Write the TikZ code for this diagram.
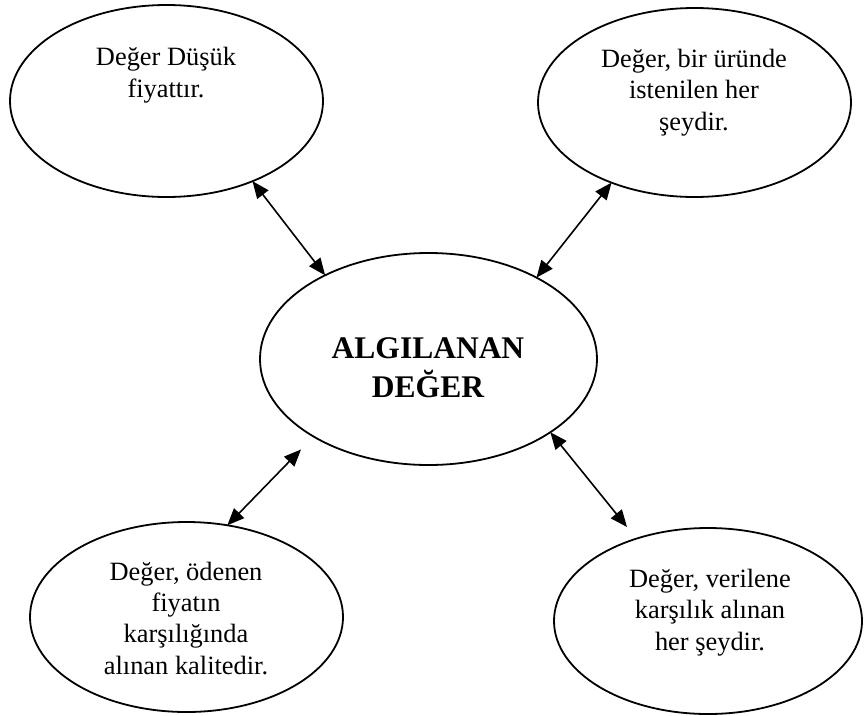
\documentclass[tikz,border=0pt]{standalone}
\usepackage{fontspec}
\setmainfont{Liberation Serif}
\usetikzlibrary{shapes.geometric,arrows.meta}
\begin{document}
\begin{tikzpicture}[x=1pt,y=-1pt,
  oval/.style={draw=black,line width=1.8pt,ellipse,inner sep=0pt,outer sep=0pt},
  txt/.style={align=center,inner sep=0pt,anchor=base,font=\fontsize{26.4pt}{31.3pt}\selectfont},
  title/.style={align=center,inner sep=0pt,anchor=base,font=\fontsize{31.5pt}{39pt}\selectfont\bfseries},
  arr/.style={line width=1.6pt,{Triangle[length=17pt,width=14pt]}-{Triangle[length=17pt,width=14pt]}}]
\useasboundingbox (0,0) rectangle (864,715);
\node[oval,minimum width=313pt,minimum height=192pt] (tl) at (166.5,101) {};
\node[oval,minimum width=313pt,minimum height=189pt] (tr) at (694.5,102.5) {};
\node[oval,minimum width=337pt,minimum height=212pt] (c) at (428.5,359) {};
\node[oval,minimum width=313pt,minimum height=190pt] (bl) at (186.5,617) {};
\node[oval,minimum width=308pt,minimum height=186pt] (br) at (708,621) {};
\node[txt] (tltext) at (166,97) {Değer Düşük\\fiyattır.};
\node[txt] (trtext) at (694,130) {Değer, bir üründe\\istenilen her\\şeydir.};
\node[title] (ctext) at (428,397) {ALGILANAN\\DEĞER};
\node[txt] (bltext) at (186,674) {Değer, ödenen\\fiyatın\\karşılığında\\alınan kalitedir.};
\node[txt] (brtext) at (710,650) {Değer, verilene\\karşılık alınan\\her şeydir.};
\draw[arr] (tl.-43.5) -- (c.141.7);
\draw[arr] (tr.-136.7) -- (c.37.2);
\draw[arr,shorten >=18pt] (bl.66.9) -- (c.-146.3);
\draw[arr,shorten >=15pt] (c.-31) -- (br.131.4);
\end{tikzpicture}
\end{document}
